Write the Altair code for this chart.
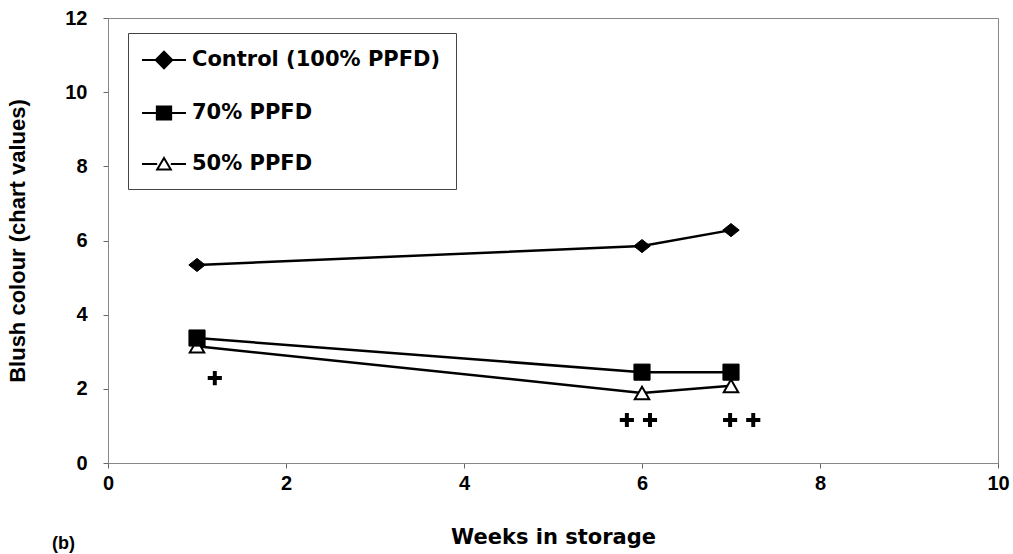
import altair as alt
import pandas as pd

# Blush colour of fruit versus weeks in storage, for three light treatments
weeks = [1, 6, 7]
control = [5.34, 5.85, 6.28]
ppfd70 = [3.37, 2.45, 2.45]
ppfd50 = [3.15, 1.89, 2.08]

series_names = ["Control (100% PPFD)", "70% PPFD", "50% PPFD"]

# significance markers ("+") placed under the reduced-light points
plus_x = [1.2, 5.83, 6.09, 6.99, 7.25]
plus_y = [2.29, 1.16, 1.16, 1.16, 1.16]

rows = []
for name, vals in zip(series_names, [control, ppfd70, ppfd50]):
    for w, v in zip(weeks, vals):
        rows.append({"series": name, "week": w, "value": v})
df = pd.DataFrame(rows)
plus_df = pd.DataFrame({"week": plus_x, "value": plus_y})
panel_df = pd.DataFrame({"label": ["(b)"]})

LABEL_FONT = "Liberation Sans"
TITLE_FONT = "DejaVu Sans"

x_enc = alt.X(
    "week:Q",
    scale=alt.Scale(domain=[0, 10], nice=False),
    axis=alt.Axis(
        values=[0, 2, 4, 6, 8, 10],
        format="d",
        title="Weeks in storage",
        titleFont=TITLE_FONT,
        titleFontSize=21,
        titleFontWeight="bold",
        titleColor="black",
        titlePadding=33,
        labelFont=LABEL_FONT,
        labelFontSize=20,
        labelFontWeight="bold",
        labelPadding=5,
        labelColor="black",
        labelFlush=False,
        tickSize=5,
        tickColor="#666",
        domainColor="#888",
        grid=False,
    ),
)
y_enc = alt.Y(
    "value:Q",
    scale=alt.Scale(domain=[0, 12], nice=False),
    axis=alt.Axis(
        values=[0, 2, 4, 6, 8, 10, 12],
        format="d",
        title="Blush colour (chart values)",
        titleFont=LABEL_FONT,
        titleFontSize=22,
        titleFontWeight="bold",
        titleColor="black",
        titlePadding=35,
        labelFont=LABEL_FONT,
        labelFontSize=20,
        labelFontWeight="bold",
        labelPadding=16,
        labelColor="black",
        labelFlush=False,
        tickSize=5,
        tickColor="#666",
        domainColor="#888",
        grid=False,
    ),
)

lines = alt.Chart(df).mark_line(color="black", strokeWidth=2.5).encode(
    x=x_enc, y=y_enc, detail="series:N"
)

# 50% drawn first so the 70% square sits on top at week 1
tri = alt.Chart(df).transform_filter(alt.datum.series == "50% PPFD").mark_point(
    shape="triangle-up", filled=True, fill="white", stroke="black",
    strokeWidth=2, size=210, opacity=1,
).encode(x="week:Q", y="value:Q")

sq = alt.Chart(df).transform_filter(alt.datum.series == "70% PPFD").mark_point(
    shape="square", filled=True, fill="black", stroke="black",
    strokeWidth=1, size=260, opacity=1,
).encode(x="week:Q", y="value:Q")

dia = alt.Chart(df).transform_filter(
    alt.datum.series == "Control (100% PPFD)"
).mark_point(
    shape="M0,-0.8L1,0L0,0.8L-1,0Z", filled=True, fill="black",
    stroke="black", strokeWidth=1, size=270, opacity=1,
).encode(x="week:Q", y="value:Q")

plus_path = "M-1,-0.28H1V0.28H-1Z M-0.28,-1H0.28V1H-0.28Z"
plus = alt.Chart(plus_df).mark_point(
    shape=plus_path, filled=True, fill="black", strokeWidth=0,
    size=200, opacity=1,
).encode(x="week:Q", y="value:Q")

# legend-only layer: no rows survive the filter, the explicit scale
# domains keep all three entries in the legend
legend_paths = [
    "M-2,0H2M0,-0.75L0.75,0L0,0.75L-0.75,0Z",
    "M-2,0H2M-0.65,-0.6H0.65V0.6H-0.65Z",
    "M-2,0H-0.62M0.62,0H2M0,-0.55L0.62,0.5L-0.62,0.5Z",
]
legend_opts = dict(
    title=None,
    orient="none",
    legendX=20,
    legendY=15,
    padding=15,
    strokeColor="#444",
    fillColor="white",
    symbolSize=484,
    symbolStrokeWidth=2,
    symbolOpacity=1,
    symbolOffset=9,
    labelOffset=16,
    rowPadding=28,
    labelFont=TITLE_FONT,
    labelFontSize=21,
    labelFontWeight="bold",
    labelColor="black",
    labelLimit=400,
)
legend_layer = alt.Chart(df).transform_filter(alt.datum.week < 0).mark_point(
    filled=True, strokeWidth=2, opacity=1
).encode(
    x="week:Q",
    y="value:Q",
    shape=alt.Shape(
        "series:N",
        scale=alt.Scale(domain=series_names, range=legend_paths),
        legend=alt.Legend(**legend_opts),
    ),
    fill=alt.Fill(
        "series:N",
        scale=alt.Scale(domain=series_names, range=["black", "black", "white"]),
        legend=alt.Legend(**legend_opts),
    ),
    stroke=alt.Stroke(
        "series:N",
        scale=alt.Scale(domain=series_names, range=["black", "black", "black"]),
        legend=alt.Legend(**legend_opts),
    ),
)

panel = alt.Chart(panel_df).mark_text(
    font=LABEL_FONT, fontSize=18, fontWeight="bold",
    align="left", baseline="top", color="black",
).encode(text="label:N", x=alt.value(-56), y=alt.value(517))

chart = (
    alt.layer(lines, tri, sq, dia, plus, legend_layer, panel)
    .properties(
        width=890,
        height=445,
        autosize=alt.AutoSizeParams(type="none"),
        padding={"left": 108, "top": 18, "right": 15, "bottom": 91},
        background="white",
    )
    .configure_view(stroke="#888", strokeWidth=1)
)

chart.save("out.html", embed_options={"renderer": "svg", "actions": False})
